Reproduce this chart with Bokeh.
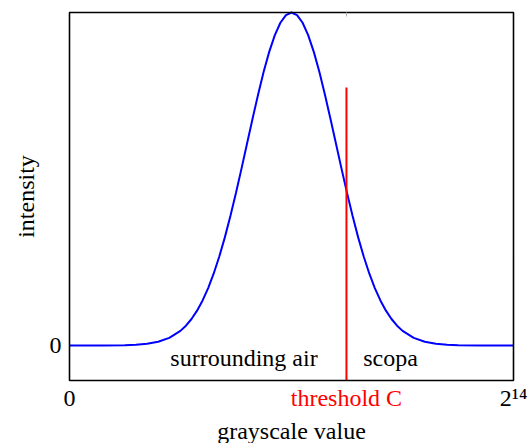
import math
from bokeh.plotting import figure
from bokeh.models import Range1d, ColumnDataSource
from bokeh.core.properties import value
from bokeh.embed import file_html
from bokeh.resources import INLINE

# curve (grayscale value -> intensity, peak normalised to 1)
grayscale = [0, 1222, 2042, 2452, 2862, 3272, 3682, 4092, 4297, 4502, 4707, 4912,
             5117, 5322, 5527, 5732, 5937, 6142, 6347, 6552, 6757, 6962, 7167, 7372,
             7577, 7782, 7987, 8192, 8397, 8602, 8807, 9012, 9217, 9422, 9627, 9832,
             10037, 10242, 10447, 10652, 10857, 11062, 11267, 11472, 11677, 11882,
             12087, 12292, 12702, 13112, 13522, 13932, 14342, 15162, 16384]
intensity = [0, 0.0001, 0.0009, 0.0022, 0.0051, 0.0111, 0.0228, 0.0439, 0.0596, 0.0796,
             0.1046, 0.1353, 0.1724, 0.2163, 0.2671, 0.3247, 0.3886, 0.4578, 0.5311,
             0.6065, 0.6819, 0.7548, 0.8226, 0.8825, 0.9321, 0.9692, 0.9922, 1.0,
             0.9922, 0.9692, 0.9321, 0.8825, 0.8226, 0.7548, 0.6819, 0.6065, 0.5311,
             0.4578, 0.3886, 0.3247, 0.2671, 0.2163, 0.1724, 0.1353, 0.1046, 0.0796,
             0.0596, 0.0439, 0.0228, 0.0111, 0.0051, 0.0022, 0.0009, 0.0001, 0]

threshold = 10220
threshold_top = 0.775
x_max = 16384
y_min = -0.1051
y_max = 1.0

region_names = ["surrounding air", "scopa"]
region_x = [6439, 11845]
region_y = [-0.063, -0.063]

x_tick_values = [0, threshold, x_max]
x_tick_labels = ["0", "threshold C", "2¹⁴"]
x_tick_colors = ["black", "#ff0000", "black"]
y_tick_values = [0]
y_tick_labels = ["0"]
x_title = "grayscale value"
y_title = "intensity"

FONT = value("Liberation Serif")
FS = value("24px")

# page geometry (pixels) of the plot box
W, H = 530, 443
BOX_L, BOX_R, BOX_T, BOX_B = 69, 513, 12, 380
sx = x_max / (BOX_R - BOX_L)            # data units per pixel
sy = (y_max - y_min) / (BOX_B - BOX_T)
DY = 8 * sy                             # compensates the renderer's baseline offset

p = figure(width=W, height=H, output_backend="svg", toolbar_location=None,
           x_axis_location=None, y_axis_location=None,
           x_range=Range1d(-BOX_L * sx, x_max + (W - BOX_R) * sx),
           y_range=Range1d(y_min - (H - BOX_B) * sy, y_max + BOX_T * sy),
           min_border=0)
p.background_fill_color = "white"
p.border_fill_color = "white"
p.outline_line_color = None
p.grid.visible = False

# curve and threshold
p.line(grayscale, intensity, line_color="#0000ff", line_width=2)
p.segment(x0=[threshold], y0=[y_min], x1=[threshold], y1=[threshold_top],
          line_color="#ff0000", line_width=2)

# axis box and the small top tick at the threshold
p.quad(left=[0], right=[x_max], bottom=[y_min], top=[y_max],
       fill_color=None, line_color="black", line_width=1.6)
p.segment(x0=[threshold], y0=[y_max], x1=[threshold], y1=[y_max - 4 * sy],
          line_color="#b0b0b0", line_width=1)

# region names inside the box
src = ColumnDataSource(dict(x=region_x, y=[v + DY for v in region_y], t=region_names))
p.text(x="x", y="y", text="t", source=src, text_align="center", text_baseline="alphabetic",
       text_font=FONT, text_font_size=FS, text_color="black")

# x tick labels
xt = ColumnDataSource(dict(x=x_tick_values,
                           y=[y_min - 25.5 * sy + DY] * len(x_tick_values),
                           t=x_tick_labels, c=x_tick_colors))
p.text(x="x", y="y", text="t", text_color="c", source=xt, text_align="center",
       text_baseline="alphabetic", text_font=FONT, text_font_size=FS)

# y tick labels
yt = ColumnDataSource(dict(x=[-8 * sx] * len(y_tick_values),
                           y=[v - 7.5 * sy + DY for v in y_tick_values], t=y_tick_labels))
p.text(x="x", y="y", text="t", source=yt, text_align="right", text_baseline="alphabetic",
       text_font=FONT, text_font_size=FS, text_color="black")

# axis titles
p.text(x=[x_max / 2], y=[y_min - 58 * sy + DY], text=[x_title], text_align="center",
       text_baseline="alphabetic", text_font=FONT, text_font_size=FS, text_color="black")
p.text(x=[-44 * sx], y=[(y_min + y_max) / 2], text=[y_title], angle=math.pi / 2,
       text_align="center", text_baseline="alphabetic",
       text_font=FONT, text_font_size=FS, text_color="black")

open("out.html", "w").write(file_html(p, INLINE))
